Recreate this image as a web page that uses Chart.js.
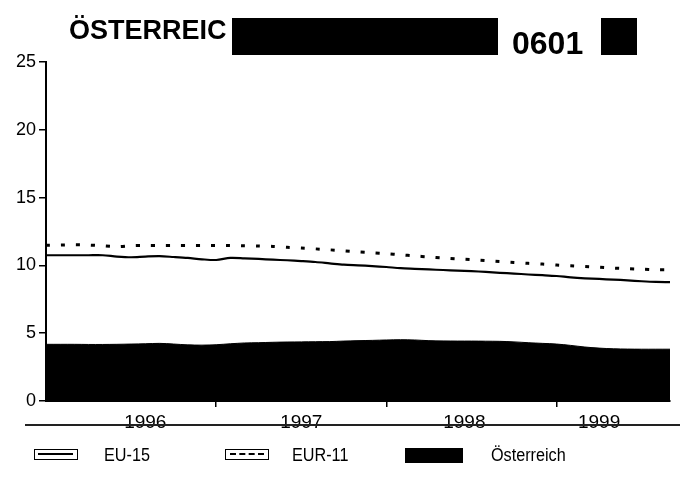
<!DOCTYPE html>
<html>
<head>
<meta charset="utf-8">
<script src="https://cdn.jsdelivr.net/npm/chart.js@4.4.1/dist/chart.umd.min.js"></script>
<style>
  body { margin: 0; background: #fff; font-family: "Liberation Sans", Arial, sans-serif; }
  #wrap { position: relative; width: 680px; height: 482px; overflow: hidden; }
  #c { position: absolute; left: 0; top: 0; }
  .abs { position: absolute; }
  .title { font-weight: bold; color: #000; white-space: nowrap; }
  .blk { background: #000; }
  .rule { left: 25px; top: 424px; width: 655px; height: 2px; background: #222; }
  .lg-box { width: 44px; height: 11px; border: 1.5px solid #000; box-sizing: border-box; }
  .lg-text { font-size: 18px; color: #000; white-space: nowrap; transform: scaleX(0.9); transform-origin: left center; }
</style>
</head>
<body>
<div id="wrap">
  <canvas id="c" width="680" height="482"></canvas>
  <div class="abs title" style="left:69px; top:15px; font-size:27px;">ÖSTERREIC</div>
  <div class="abs blk" style="left:232px; top:18px; width:266px; height:37px;"></div>
  <div class="abs title" style="left:512px; top:25px; font-size:32px;">0601</div>
  <div class="abs blk" style="left:601px; top:18px; width:36px; height:37px;"></div>
  <div class="abs rule"></div>
  <!-- legend -->
  <div class="abs lg-box" style="left:34px; top:449px;">
    <div class="abs" style="left:3px; top:3px; width:35px; height:2px; background:#000;"></div>
  </div>
  <div class="abs lg-text" style="left:104px; top:445px;">EU-15</div>
  <div class="abs lg-box" style="left:225px; top:449px;">
    <div class="abs" style="left:4px; top:3px; width:34px; height:0; border-top:2px dashed #000;"></div>
  </div>
  <div class="abs lg-text" style="left:292px; top:445px;">EUR-11</div>
  <div class="abs blk" style="left:405px; top:448px; width:58px; height:15px;"></div>
  <div class="abs lg-text" style="left:491px; top:445px;">Österreich</div>
</div>
<script>
// monthly values, Jan 1996 .. Sep 1999
const months = Array.from({ length: 45 }, (_, i) => i);

const eu15 = [10.75, 10.75, 10.75, 10.75, 10.75, 10.65, 10.6, 10.65, 10.68, 10.62,
  10.55, 10.45, 10.4, 10.55, 10.52, 10.48, 10.42, 10.38, 10.32, 10.25,
  10.15, 10.05, 10.0, 9.95, 9.88, 9.8, 9.75, 9.7, 9.66, 9.62,
  9.58, 9.52, 9.45, 9.4, 9.33, 9.28, 9.22, 9.12, 9.05, 9.0,
  8.95, 8.9, 8.83, 8.78, 8.77];

const eur11 = [11.48, 11.5, 11.52, 11.5, 11.45, 11.38, 11.45, 11.47, 11.47, 11.47,
  11.47, 11.47, 11.47, 11.46, 11.45, 11.43, 11.4, 11.33, 11.28, 11.22,
  11.15, 11.08, 11.0, 10.93, 10.86, 10.78, 10.7, 10.62, 10.55, 10.48,
  10.42, 10.35, 10.28, 10.22, 10.15, 10.1, 10.03, 9.97, 9.92, 9.86,
  9.8, 9.76, 9.72, 9.68, 9.68];

const oesterreich = [4.18, 4.18, 4.18, 4.17, 4.17, 4.18, 4.2, 4.22, 4.25, 4.2,
  4.14, 4.12, 4.15, 4.22, 4.28, 4.3, 4.33, 4.35, 4.36, 4.37,
  4.38, 4.42, 4.45, 4.47, 4.5, 4.52, 4.5, 4.45, 4.43, 4.42,
  4.42, 4.41, 4.4, 4.36, 4.3, 4.25, 4.2, 4.1, 3.98, 3.9,
  3.85, 3.83, 3.82, 3.82, 3.82];

// x axis: year boundaries get tick marks, year labels sit in between
const yearTicks = [12, 24, 36];
const yearLabelPos = [7, 18, 29.5, 39];
const yearLabels = ['1996', '1997', '1998', '1999'];

const yTicks = [0, 5, 10, 15, 20, 25];

const pts = arr => arr.map((v, i) => ({ x: months[i], y: v }));

new Chart(document.getElementById('c'), {
  type: 'line',
  data: {
    datasets: [
      {
        label: 'EU-15',
        data: pts(eu15),
        borderColor: '#000',
        borderWidth: 2.2,
        pointRadius: 0,
        tension: 0.3,
        fill: false,
        order: 1
      },
      {
        label: 'EUR-11',
        data: pts(eur11),
        borderColor: '#000',
        borderWidth: 3,
        borderDash: [4, 11],
        pointRadius: 0,
        tension: 0.3,
        fill: false,
        order: 2
      },
      {
        label: 'Österreich',
        data: pts(oesterreich),
        borderColor: '#000',
        backgroundColor: '#000',
        borderWidth: 1,
        pointRadius: 0,
        tension: 0.3,
        fill: 'origin',
        order: 3
      }
    ]
  },
  options: {
    responsive: false,
    animation: false,
    layout: { padding: { top: 62, right: 10, left: 0, bottom: 0 } },
    plugins: {
      legend: { display: false },
      tooltip: { enabled: false }
    },
    scales: {
      x: {
        type: 'linear',
        min: 0,
        max: 44,
        afterBuildTicks: s => {
          s.ticks = yearTicks.concat(yearLabelPos).sort((a, b) => a - b).map(v => ({ value: v }));
        },
        afterFit: s => { s.height = 81; },
        ticks: {
          autoSkip: false,
          maxRotation: 0,
          color: '#000',
          padding: 4,
          font: { family: 'Liberation Sans', size: 19 },
          callback: v => {
            const i = yearLabelPos.indexOf(v);
            return i >= 0 ? yearLabels[i] : '';
          }
        },
        grid: {
          drawOnChartArea: false,
          tickLength: 6,
          lineWidth: 1.5,
          tickColor: ctx => (ctx.tick && yearTicks.includes(ctx.tick.value)) ? '#000' : 'rgba(0,0,0,0)'
        },
        border: { color: '#000', width: 2 }
      },
      y: {
        min: 0,
        max: 25,
        afterBuildTicks: s => { s.ticks = yTicks.map(v => ({ value: v })); },
        afterFit: s => { s.width = 46; },
        ticks: {
          color: '#000',
          padding: 3,
          font: { family: 'Liberation Sans', size: 18 }
        },
        grid: {
          drawOnChartArea: false,
          tickLength: 7,
          lineWidth: 1.5,
          tickColor: '#000'
        },
        border: { color: '#000', width: 2 }
      }
    }
  }
});
</script>
</body>
</html>
